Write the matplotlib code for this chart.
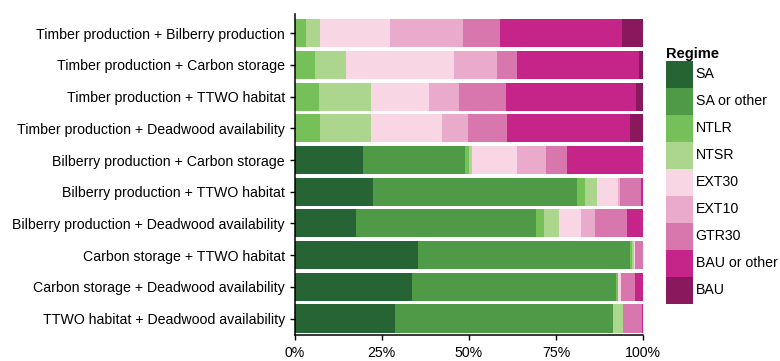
import matplotlib
matplotlib.use("Agg")
import matplotlib.pyplot as plt
from matplotlib.patches import Patch
import matplotlib.ticker as mticker

plt.rcParams['font.family'] = ['Liberation Sans', 'DejaVu Sans']

# objective pairs, top to bottom
pairs = [
    "Timber production + Bilberry production",
    "Timber production + Carbon storage",
    "Timber production + TTWO habitat",
    "Timber production + Deadwood availability",
    "Bilberry production + Carbon storage",
    "Bilberry production + TTWO habitat",
    "Bilberry production + Deadwood availability",
    "Carbon storage + TTWO habitat",
    "Carbon storage + Deadwood availability",
    "TTWO habitat + Deadwood availability",
]

regimes = ["SA", "SA or other", "NTLR", "NTSR", "EXT30", "EXT10",
           "GTR30", "BAU or other", "BAU"]
colors = ["#266434", "#4e9a46", "#76c05a", "#acd68e", "#f8d6e4",
          "#e9aacc", "#d877ae", "#c52488", "#8a185c"]

# share of stands (%) per regime, one value per pair
sa        = [0, 0, 0, 0, 19.6, 22.5, 17.5, 35.5, 33.7, 28.8]
sa_other  = [0, 0, 0, 0, 29.4, 58.5, 51.7, 60.7, 58.4, 62.7]
ntlr      = [3.3, 6.0, 6.9, 7.4, 1.2, 2.3, 2.3, 0.6, 0.8, 0]
ntsr      = [3.9, 8.8, 14.9, 14.6, 0.6, 3.4, 4.5, 0.5, 0, 2.7]
ext30     = [20.2, 31.0, 16.7, 20.2, 12.9, 6.0, 6.3, 0.4, 0.8, 0]
ext10     = [20.8, 12.4, 8.8, 7.5, 8.4, 0.8, 4.0, 0, 0, 0]
gtr30     = [10.8, 5.6, 13.5, 11.2, 6.0, 5.9, 9.1, 2.3, 4.0, 5.5]
bau_other = [35.0, 35.1, 37.3, 35.4, 21.9, 0.6, 4.6, 0, 2.3, 0.3]
bau       = [6.0, 1.1, 1.9, 3.7, 0, 0, 0, 0, 0, 0]

series = [sa, sa_other, ntlr, ntsr, ext30, ext10, gtr30, bau_other, bau]

fig = plt.figure(figsize=(7.8, 3.61), dpi=100)
ax = fig.add_axes([0.3776, 0.072, 0.4468, 0.8886])

ypos = list(range(len(pairs)))
left = [0.0] * len(pairs)
for name, col, vals in zip(regimes, colors, series):
    ax.barh(ypos, vals, left=left, height=0.885, color=col,
            edgecolor='none', label=name)
    left = [l + v for l, v in zip(left, vals)]

ax.set_ylim(len(pairs) - 0.48, -0.6)
ax.set_xlim(0, 100)
ax.set_yticks(ypos)
ax.set_yticklabels(pairs)
ax.set_xticks([0, 25, 50, 75, 100])
ax.xaxis.set_major_formatter(mticker.FuncFormatter(lambda v, p: f"{v:.0f}%"))

for s in ['top', 'right']:
    ax.spines[s].set_visible(False)
for s in ['left', 'bottom']:
    ax.spines[s].set_linewidth(1.1)
    ax.spines[s].set_color('black')
ax.tick_params(axis='both', labelsize=10.2, length=3.5, width=1.0,
               colors='black')
ax.tick_params(axis='y', pad=3.5)
ax.tick_params(axis='x', pad=4.5)

handles = [Patch(facecolor=c, edgecolor='none', label=r)
           for r, c in zip(regimes, colors)]
fs = 10.2
leg = fig.legend(handles=handles, title="Regime", loc='upper left',
                 bbox_to_anchor=(0.8535, 0.871), frameon=False,
                 fontsize=fs, handlelength=1.906, handleheight=2.555,
                 labelspacing=0, handletextpad=0.2, borderpad=0,
                 borderaxespad=0)
leg.get_title().set_fontweight('bold')
leg.get_title().set_fontsize(10.5)
leg._legend_box.align = "left"

fig.savefig("out.png", dpi=100)
